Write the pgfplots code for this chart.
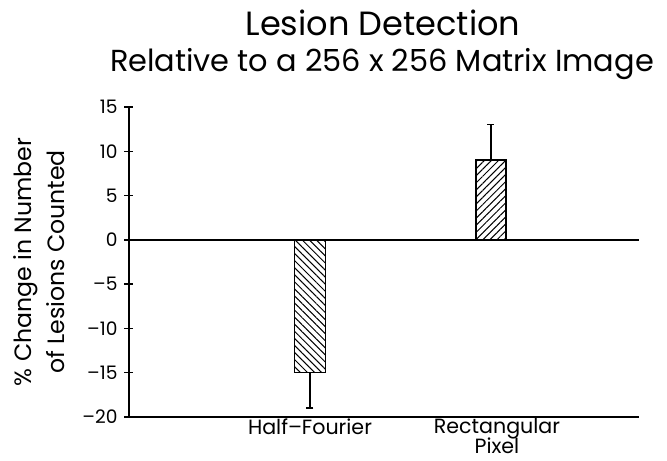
\documentclass[border=0pt]{standalone}
\usepackage{fontspec}
\setmainfont{Poppins}
\usepackage{pgfplots}
\pgfplotsset{compat=1.18}
\usetikzlibrary{patterns.meta}
\begin{document}
\begin{tikzpicture}
\begin{axis}[
  scale only axis, width=255pt, height=155pt,
  xmin=0, xmax=2.818, ymin=-20, ymax=15,
  axis x line=bottom, axis y line=left,
  axis line style={-, line width=0.7pt},
  ytick={-20,-15,-10,-5,0,5,10,15},
  yticklabels={--20,--15,--10,--5,0,5,10,15},
  xtick={1,2}, xticklabels={Half--Fourier, {\hspace*{6pt}Rectangular\\[-2pt]\hspace*{6pt}Pixel}},
  xticklabel style={align=center, font=\fontsize{10.3}{12}\selectfont, yshift=5pt},
  x tick style={draw=none},
  y tick style={line width=0.7pt, black},
  tick align=center, major tick length=4.5pt,
  yticklabel style={font=\fontsize{9.3}{9.5}\selectfont},
  clip=false,
]
\coordinate (bl) at (rel axis cs:0,0);
\coordinate (tr) at (rel axis cs:1,1);
\addplot[black, line width=0.7pt, forget plot] coordinates {(0,0) (2.818,0)};
\addplot[ybar, bar width=15.5pt, bar shift=0pt, draw=black, line width=0.7pt,
  pattern={Lines[angle=-45,distance=2.5pt,line width=0.5pt]},
  error bars/.cd, y dir=minus, y explicit,
  error mark options={rotate=90, mark size=1.75pt, line width=0.7pt},
  error bar style={line width=0.7pt}]
  coordinates {(1,-15) -= (0,4)};
\addplot[ybar, bar width=15pt, bar shift=0pt, draw=black, line width=0.7pt,
  pattern={Lines[angle=45,distance=2.5pt,line width=0.5pt]},
  error bars/.cd, y dir=plus, y explicit,
  error mark options={rotate=90, mark size=1.75pt, line width=0.7pt},
  error bar style={line width=0.7pt}]
  coordinates {(2,9) += (0,4)};
\node[anchor=base, font=\fontsize{16.8}{16.8}\selectfont] at ([yshift=35.5pt]rel axis cs:0.498,1) {Lesion Detection};
\node[anchor=base, font=\fontsize{15.2}{15.2}\selectfont] at ([yshift=17.5pt]rel axis cs:0.496,1) {Relative to a 256 x 256 Matrix Image};
\node[rotate=90, align=center, font=\fontsize{11.8}{16.5}\selectfont] at ([xshift=-45pt]rel axis cs:0,0.5) {\% Change in Number\\of Lesions Counted};
\end{axis}
\pgfresetboundingbox
\path ([shift={(-64.5pt,-22pt)}]bl) rectangle ([shift={(14pt,53.5pt)}]tr);
\end{tikzpicture}
\end{document}
